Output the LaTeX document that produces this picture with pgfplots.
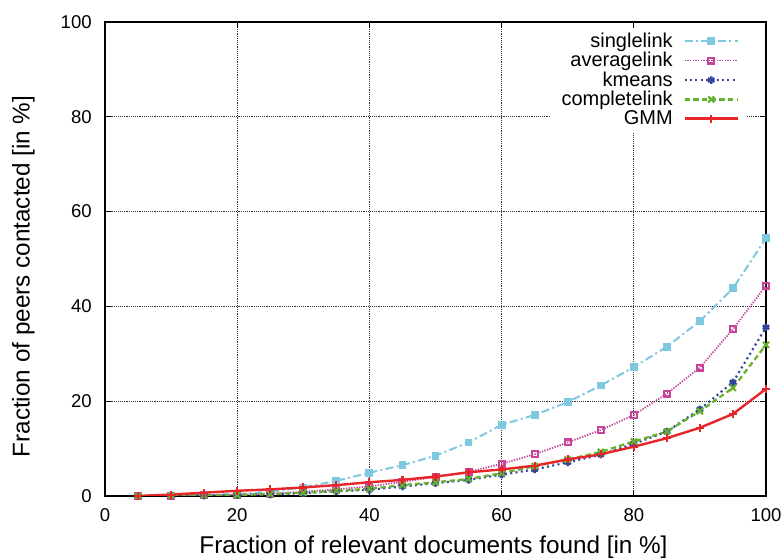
\documentclass[border=0pt]{standalone}
\usepackage{pgfplots}
\pgfplotsset{compat=1.18}
\usepackage{fontspec}
\setmainfont{Liberation Sans}
\definecolor{cSingle}{HTML}{7EC8E0}
\definecolor{cAvg}{HTML}{C8449A}
\definecolor{cKm}{HTML}{33449A}
\definecolor{cComp}{HTML}{66B22E}
\definecolor{cGmm}{HTML}{E8262A}
\begin{document}
\begin{tikzpicture}
\begin{axis}[
  scale only axis,
  width=495.75pt, height=355.5pt,
  xmin=0, xmax=100, ymin=0, ymax=100,
  xtick={0,20,...,100}, ytick={0,20,...,100},
  /pgf/number format/assume math mode=true,
  tick label style={font=\fontsize{13.9}{16}\selectfont},
  xticklabel style={yshift=-6pt},
  yticklabel style={xshift=-6.5pt},
  label style={font=\fontsize{18.2}{21}\selectfont},
  xlabel={Fraction of relevant documents found [in \%]},
  ylabel={Fraction of peers contacted [in \%]},
  xlabel style={at={(axis description cs:0.497,-0.122)}, anchor=base},
  ylabel style={at={(axis description cs:-0.1142,0.463)}, anchor=base},
  grid=major,
  major grid style={black!80, densely dotted, line width=0.5pt},
  tick align=inside,
  major tick length=4.5pt,
  tick style={line width=0.7pt, black},
  axis line style={line width=0.8pt},
  legend plot pos=right,
  legend cell align=right,
  legend image code/.code={\draw[mark repeat=2,mark phase=2] plot coordinates {(0pt,0pt) (20pt,0pt) (40pt,0pt)};},
  legend style={draw=none, fill=white, at={(axis description cs:1,1)}, anchor=north east,
    xshift=-14pt, yshift=-4pt, inner xsep=6pt, inner ysep=2pt,
    font=\fontsize{15}{17}\selectfont, row sep=-1.8pt,
    /tikz/every odd column/.append style={column sep=6pt}},
]
\addplot[cSingle, line width=1.5pt, dash pattern=on 6pt off 2.5pt on 1.5pt off 2.5pt, mark=square*, mark size=2.2pt, mark options={solid, fill=cSingle}] coordinates {
(5,0) (10,0.1) (15,0.2) (20,0.4) (25,0.9) (30,1.8) (35,3.2) (40,4.9) (45,6.5) (50,8.5)
(55,11.3) (60,15.0) (65,17.1) (70,19.8) (75,23.3) (80,27.2) (85,31.5) (90,36.9) (95,43.8) (100,54.4)};
\addlegendentry{singlelink}
\addplot[cAvg, line width=1.3pt, dash pattern=on 1pt off 1pt, mark=square, mark size=2.2pt, mark options={solid, line width=1.6pt}] coordinates {
(5,0) (10,0.1) (15,0.2) (20,0.3) (25,0.5) (30,0.9) (35,1.4) (40,2.0) (45,3.0) (50,4.0)
(55,5.1) (60,6.8) (65,8.8) (70,11.3) (75,13.9) (80,17.1) (85,21.6) (90,27.1) (95,35.2) (100,44.4)};
\addlegendentry{averagelink}
\addplot[cKm, line width=1.6pt, dash pattern=on 1.5pt off 2.5pt, mark=asterisk, mark size=2.8pt, mark options={solid, line width=1.8pt}] coordinates {
(5,0) (10,0.1) (15,0.1) (20,0.2) (25,0.3) (30,0.6) (35,1.0) (40,1.3) (45,2.0) (50,2.7)
(55,3.4) (60,4.5) (65,5.6) (70,7.1) (75,8.7) (80,11.0) (85,13.6) (90,18.3) (95,24.0) (100,35.6)};
\addlegendentry{kmeans}
\addplot[cComp, line width=1.7pt, dash pattern=on 4pt off 2.5pt, mark=x, mark size=3.2pt, mark options={solid, line width=1.6pt}] coordinates {
(5,0) (10,0.1) (15,0.1) (20,0.2) (25,0.4) (30,0.7) (35,1.1) (40,1.5) (45,2.3) (50,2.9)
(55,3.6) (60,4.8) (65,6.3) (70,7.7) (75,9.3) (80,11.5) (85,13.6) (90,17.9) (95,22.8) (100,31.9)};
\addlegendentry{completelink}
\addplot[cGmm, line width=1.8pt, mark=+, mark size=3pt, mark options={solid, line width=1.6pt}] coordinates {
(5,0) (10,0.3) (15,0.7) (20,1.1) (25,1.4) (30,1.8) (35,2.3) (40,2.9) (45,3.4) (50,4.1)
(55,5.0) (60,5.6) (65,6.4) (70,7.7) (75,8.8) (80,10.4) (85,12.2) (90,14.4) (95,17.3) (100,22.6)};
\addlegendentry{GMM}
\end{axis}
\pgfresetboundingbox
\path[use as bounding box] ([xshift=-78.75pt,yshift=-47.25pt]current axis.south west) rectangle ([xshift=13.5pt,yshift=16.5pt]current axis.north east);
\end{tikzpicture}
\end{document}
